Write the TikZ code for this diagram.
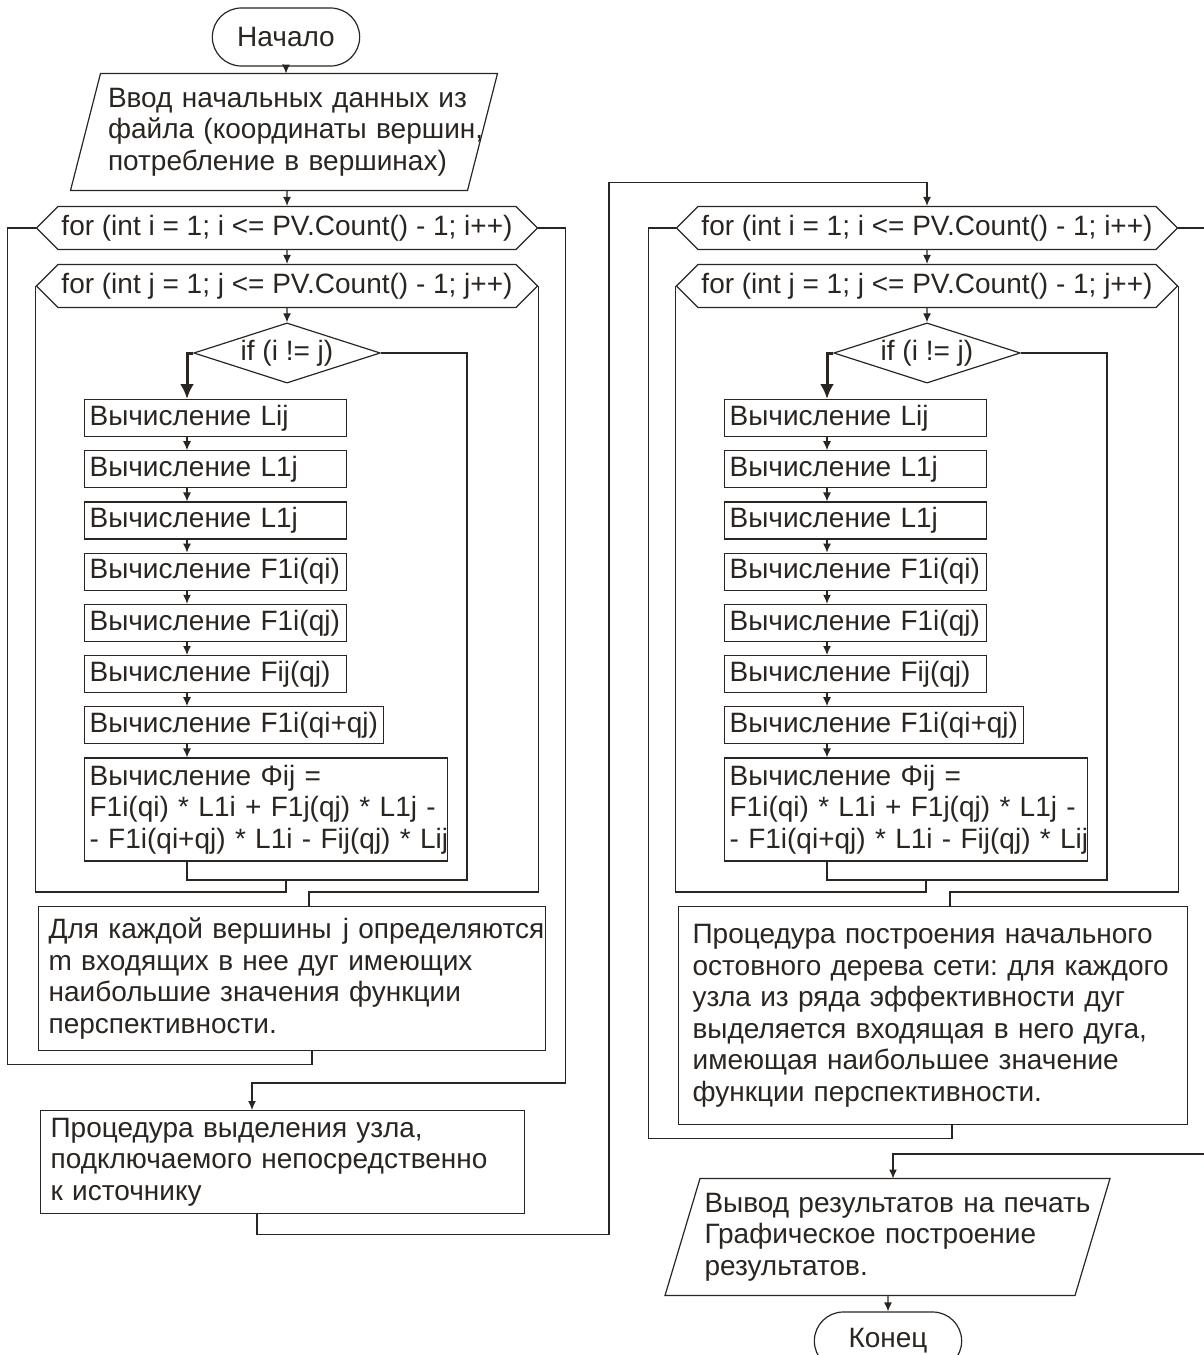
\documentclass[tikz,border=0pt]{standalone}
\usepackage{fontspec}
\setmainfont{Liberation Sans}
\usetikzlibrary{arrows.meta}
\usetikzlibrary{shapes.geometric}
\usetikzlibrary{shapes.misc}
\usetikzlibrary{shapes.symbols}
\usetikzlibrary{positioning}
\frenchspacing

\definecolor{ink}{RGB}{42,37,33}

\tikzset{
  line/.style={draw=ink, line width=1.2pt},
  arr/.style={line, -{Latex[length=9pt,width=8pt]}},
  yesarr/.style={draw=ink, line width=3pt, -{Latex[length=15pt,width=14pt]}},
  termbox/.style={rounded rectangle, draw=ink, line width=1.2pt,
    minimum width=154pt, minimum height=58pt},
  iobox/.style={rectangle, align=left, inner sep=0pt, outer sep=0pt, minimum height=117pt},
  forbox/.style={signal, signal to=west and east, signal pointer angle=90,
    draw=ink, line width=1.2pt, minimum width=501pt, minimum height=43pt, inner sep=0pt},
  ifbox/.style={diamond, aspect=3.1, draw=ink, line width=1.2pt, inner sep=1.6pt},
  calcbox/.style={rectangle, draw=ink, line width=1.2pt, anchor=north west,
    text width=#1, inner xsep=5pt, inner ysep=3pt, minimum height=37pt, align=left},
  textbox/.style={rectangle, draw=ink, line width=1.2pt, anchor=north west, align=left},
}

\begin{document}
\begin{tikzpicture}[x=1pt, y=-1pt, text=ink, font=\fontsize{28pt}{31.5pt}\selectfont]
%% Loop over pairs of vertices with its body
%% 2 params : x shift, name.
%% Note : exits of the outer loop are drawn outside.
\newcommand{\loopblock}[2]{
\begin{scope}[xshift=#1pt]
\node[forbox] (#2_i) at (287,228) {for (int i = 1; i <= PV.Count() - 1; i++)};
\node[forbox] (#2_j) at (287,286) {for (int j = 1; j <= PV.Count() - 1; j++)};
\node[ifbox] (#2_if) at (287,353) {if (i != j)};
\node[calcbox=252pt] (#2_c1) at (84,399) {Вычисление Lij};
\node[calcbox=252pt, below=13pt of #2_c1.south west, anchor=north west] (#2_c2) {Вычисление L1j};
\node[calcbox=252pt, below=13pt of #2_c2.south west, anchor=north west] (#2_c3) {Вычисление L1j};
\node[calcbox=252pt, below=13pt of #2_c3.south west, anchor=north west] (#2_c4) {Вычисление F1i(qi)};
\node[calcbox=252pt, below=13pt of #2_c4.south west, anchor=north west] (#2_c5) {Вычисление F1i(qj)};
\node[calcbox=252pt, below=13pt of #2_c5.south west, anchor=north west] (#2_c6) {Вычисление Fij(qj)};
\node[calcbox=289pt, below=13pt of #2_c6.south west, anchor=north west] (#2_c7) {\mbox{Вычисление F1i(qi+qj)}};
\node[calcbox=353pt, minimum height=103pt, below=13pt of #2_c7.south west, anchor=north west] (#2_c8)
  {Вычисление Φij =\\ F1i(qi) * L1i + F1j(qj) * L1j -\\ \mbox{- F1i(qi+qj) * L1i - Fij(qj) * Lij}};
% body
\draw[arr] (#2_i) -- (#2_j);
\draw[arr] (#2_j) -- (#2_if);
\draw[yesarr] (#2_if.west) -| ([xshift=103pt]#2_c1.north west);
\draw[arr] ([xshift=103pt]#2_c1.south west) -- ([xshift=103pt]#2_c2.north west);
\draw[arr] ([xshift=103pt]#2_c2.south west) -- ([xshift=103pt]#2_c3.north west);
\draw[arr] ([xshift=103pt]#2_c3.south west) -- ([xshift=103pt]#2_c4.north west);
\draw[arr] ([xshift=103pt]#2_c4.south west) -- ([xshift=103pt]#2_c5.north west);
\draw[arr] ([xshift=103pt]#2_c5.south west) -- ([xshift=103pt]#2_c6.north west);
\draw[arr] ([xshift=103pt]#2_c6.south west) -- ([xshift=103pt]#2_c7.north west);
\draw[arr] ([xshift=103pt]#2_c7.south west) -- ([xshift=103pt]#2_c8.north west);
% join of both branches, back to the inner loop
\coordinate (#2_m) at (467,880);
\coordinate (#2_back) at (286,880);
\draw[line] (#2_if.east) -| (#2_m) -| ([xshift=103pt]#2_c8.south west);
\draw[line] (#2_back) -- ++(0,12) -| (#2_j.west);
\end{scope}
}

%% Data frame round a text node
%% 3 params : node, shift of lower side, shift of upper side.
\newcommand{\slantframe}[3]{
\draw[line] ([xshift=#2pt]#1.south west) -- ([xshift=#2pt]#1.south east)
  -- ([xshift=#3pt]#1.north east) -- ([xshift=#3pt]#1.north west) -- cycle;
}

\useasboundingbox (0,0) rectangle (1203,1355);

%% left column
\node[termbox] (start) at (286,37) {Начало};
\node[iobox, text width=378pt, minimum width=397pt] (input) at (297,132)
  {Ввод начальных данных из\\ \mbox{файла (координаты вершин,}\\ потребление в вершинах)};
\slantframe{input}{-28}{2}
\loopblock{0}{L}
\node[textbox, text width=487pt, inner xsep=10pt, minimum height=144pt] (best) at (38,906)
  {\mbox{Для каждой вершины\hspace{11pt}j определяются}\\ m входящих в нее дуг имеющих\\
   наибольшие значения функции\\ перспективности.};
\node[textbox, text width=464pt, inner xsep=10pt, minimum height=103pt] (src) at (40,1110)
  {Процедура выделения узла,\\ подключаемого непосредственно\\ к источнику};

%% right column
\loopblock{640}{R}
\node[textbox, text width=481pt, inner xsep=14pt, minimum height=218pt] (tree) at (678,906)
  {Процедура построения начального\\ остовного дерева сети: для каждого\\
   узла из ряда эффективности дуг\\ выделяется входящая в него дуга,\\
   имеющая наибольшее значение\\ функции перспективности.};
\node[iobox, text width=385pt, minimum width=410pt] (output) at (897,1237)
  {\mbox{Вывод результатов на печать}\\ Графическое построение\\ результатов.};
\slantframe{output}{-27}{8}
\node[termbox] (stop) at (888,1341) {Конец};

%% wires
\draw[arr] (start) -- (start |- input.north);
\draw[arr] (L_i |- input.south) -- (L_i);
% inner loop exits
\draw[line] (L_j.east) -- ++(0,606) -| ([xshift=271pt]best.north west);
\draw[line] (R_j.east) -- ++(0,606) -| ([xshift=272pt]tree.north west);
% outer loop returns
\draw[line] ([xshift=274pt]best.south west) -- ++(0,13) -| ([xshift=-28pt]L_i.west) -- (L_i.west);
\draw[line] ([xshift=274pt]tree.south west) -- ++(0,13) -| ([xshift=-27pt]R_i.west) -- (R_i.west);
% outer loop exits
\draw[arr] (L_i.east) -- ++(27,0) -- ++(0,855) -| ([xshift=212pt]src.north west);
\draw[arr] ([xshift=217pt]src.south west) -- ++(0,20) -| ++(352,-1052) -| (R_i.north);
\draw[arr] (R_i.east) -- ++(40,0) -- ++(0,926) -| ([xshift=-4pt]output.north);
\draw[arr] (stop |- output.south) -- (stop);
\end{tikzpicture}
\end{document}
